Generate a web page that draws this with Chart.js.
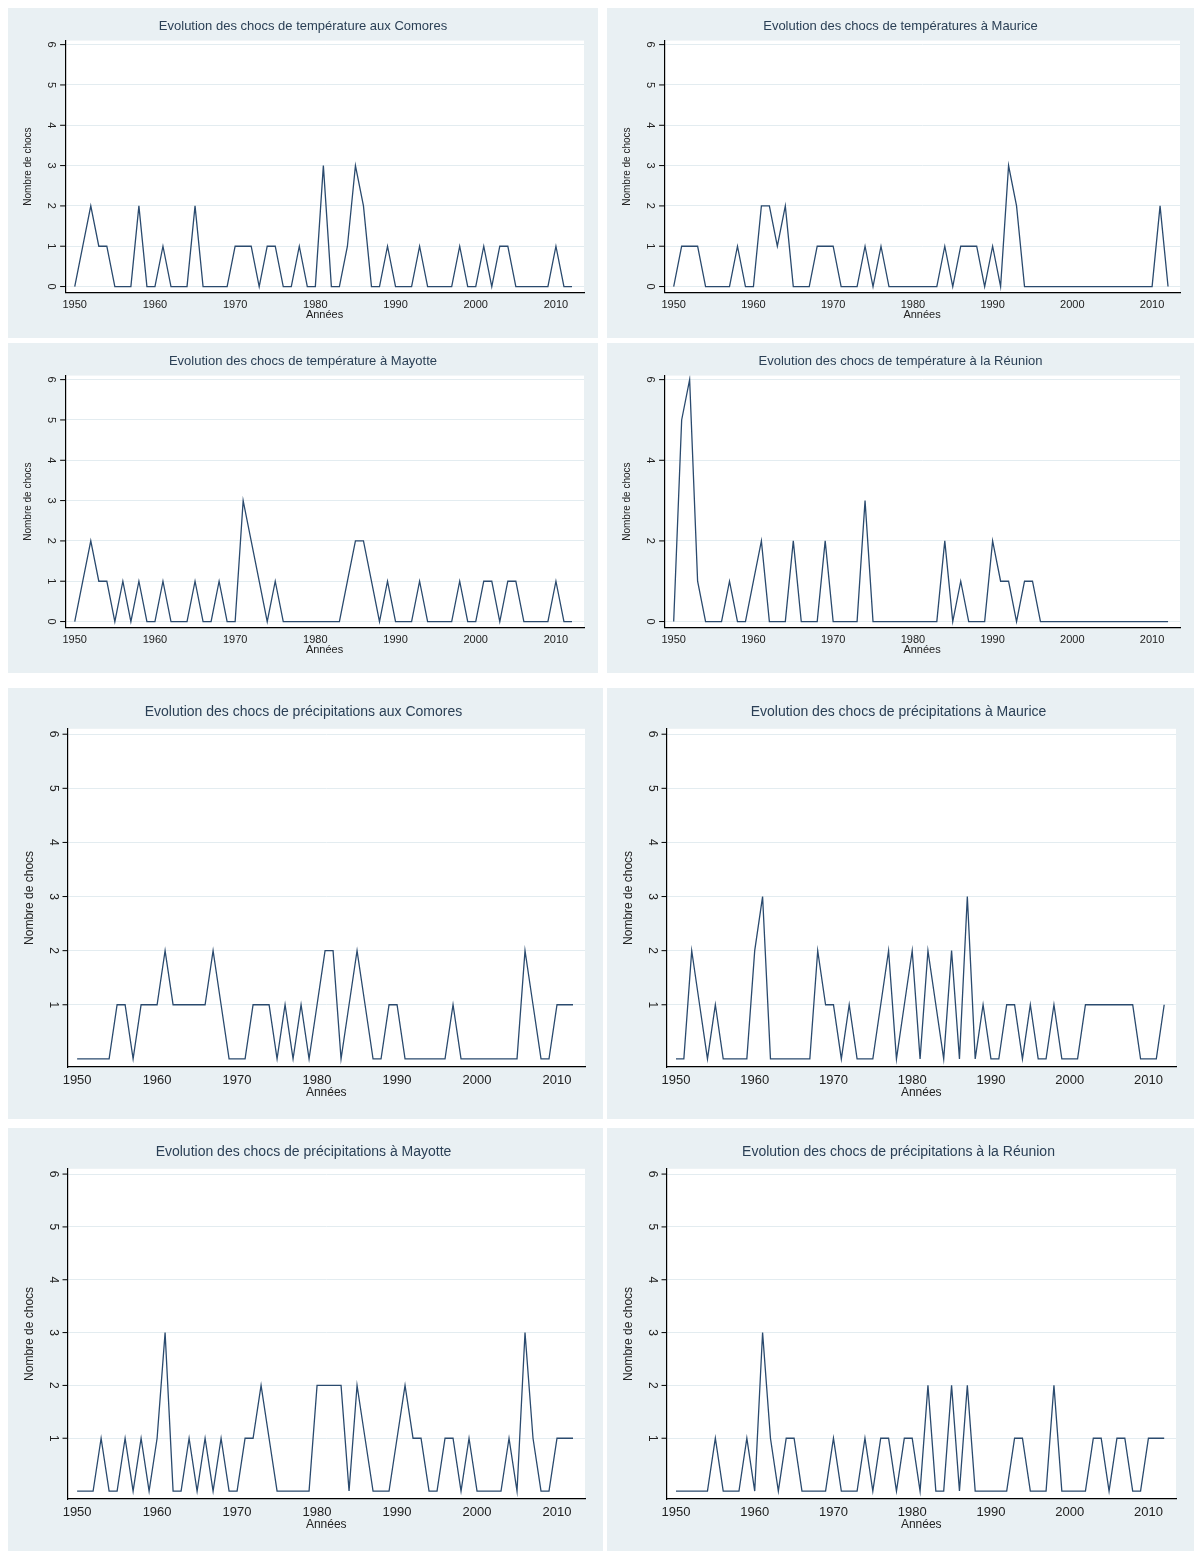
<!DOCTYPE html>
<html>
<head>
<meta charset="utf-8">
<script src="https://cdn.jsdelivr.net/npm/chart.js@4.4.1/dist/chart.umd.min.js"></script>
<style>
  body { margin: 0; background: #ffffff; width: 1195px; height: 1551px; position: relative; font-family: "Liberation Sans", Arial, sans-serif; }
  .panel { position: absolute; background: #e9f0f3; }
  .panel canvas { display: block; }
</style>
</head>
<body>
<script>
const YEARS = [];
for (let y = 1950; y <= 2012; y++) YEARS.push(y);

const X_TICKS = [1950, 1960, 1970, 1980, 1990, 2000, 2010];

const TEMP_COMORES = [0,1,2,1,1,0,0,0,2,0,0,1,0,0,0,2,0,0,0,0,1,1,1,0,1,1,0,0,1,0,0,3,0,0,1,3,2,0,0,1,0,0,0,1,0,0,0,0,1,0,0,1,0,1,1,0,0,0,0,0,1,0,0];
const TEMP_MAURICE = [0,1,1,1,0,0,0,0,1,0,0,2,2,1,2,0,0,0,1,1,1,0,0,0,1,0,1,0,0,0,0,0,0,0,1,0,1,1,1,0,1,0,3,2,0,0,0,0,0,0,0,0,0,0,0,0,0,0,0,0,0,2,0];
const TEMP_MAYOTTE = [0,1,2,1,1,0,1,0,1,0,0,1,0,0,0,1,0,0,1,0,0,3,2,1,0,1,0,0,0,0,0,0,0,0,1,2,2,1,0,1,0,0,0,1,0,0,0,0,1,0,0,1,1,0,1,1,0,0,0,0,1,0,0];
const TEMP_REUNION = [0,5,6,1,0,0,0,1,0,0,1,2,0,0,0,2,0,0,0,2,0,0,0,0,3,0,0,0,0,0,0,0,0,0,2,0,1,0,0,0,2,1,1,0,1,1,0,0,0,0,0,0,0,0,0,0,0,0,0,0,0,0,0];
const PREC_COMORES = [0,0,0,0,0,1,1,0,1,1,1,2,1,1,1,1,1,2,1,0,0,0,1,1,1,0,1,0,1,0,1,2,2,0,1,2,1,0,0,1,1,0,0,0,0,0,0,1,0,0,0,0,0,0,0,0,2,1,0,0,1,1,1];
const PREC_MAURICE = [0,0,2,1,0,1,0,0,0,0,2,3,0,0,0,0,0,0,2,1,1,0,1,0,0,0,1,2,0,1,2,0,2,1,0,2,0,3,0,1,0,0,1,1,0,1,0,0,1,0,0,0,1,1,1,1,1,1,1,0,0,0,1];
const PREC_MAYOTTE = [0,0,0,1,0,0,1,0,1,0,1,3,0,0,1,0,1,0,1,0,0,1,1,2,1,0,0,0,0,0,2,2,2,2,0,2,1,0,0,0,1,2,1,1,0,0,1,1,0,1,0,0,0,0,1,0,3,1,0,0,1,1,1];
const PREC_REUNION = [0,0,0,0,0,1,0,0,0,1,0,3,1,0,1,1,0,0,0,0,1,0,0,0,1,0,1,1,0,1,1,0,2,0,0,2,0,2,0,0,0,0,0,1,1,0,0,0,2,0,0,0,0,1,1,0,1,1,0,0,1,1,1];

const TITLES = [
  "Evolution des chocs de température aux Comores",
  "Evolution des chocs de températures à Maurice",
  "Evolution des chocs de température à Mayotte",
  "Evolution des chocs de température à la Réunion",
  "Evolution des chocs de précipitations aux Comores",
  "Evolution des chocs de précipitations à Maurice",
  "Evolution des chocs de précipitations à Mayotte",
  "Evolution des chocs de précipitations à la Réunion"
];

const SERIES = [TEMP_COMORES, TEMP_MAURICE, TEMP_MAYOTTE, TEMP_REUNION,
                PREC_COMORES, PREC_MAURICE, PREC_MAYOTTE, PREC_REUNION];

const Y_TICKS_TEMP = [0, 1, 2, 3, 4, 5, 6];
const Y_TICKS_REUNION = [0, 2, 4, 6];
const Y_TICKS_PREC = [1, 2, 3, 4, 5, 6];

const PANELS = [
  { left: 8,   top: 8,    w: 590, h: 330, yTicks: Y_TICKS_TEMP,    big: false },
  { left: 607, top: 8,    w: 587, h: 330, yTicks: Y_TICKS_TEMP,    big: false },
  { left: 8,   top: 343,  w: 590, h: 330, yTicks: Y_TICKS_TEMP,    big: false },
  { left: 607, top: 343,  w: 587, h: 330, yTicks: Y_TICKS_REUNION, big: false },
  { left: 8,   top: 688,  w: 595, h: 431, yTicks: Y_TICKS_PREC,    big: true },
  { left: 607, top: 688,  w: 587, h: 431, yTicks: Y_TICKS_PREC,    big: true },
  { left: 8,   top: 1128, w: 595, h: 423, yTicks: Y_TICKS_PREC,    big: true },
  { left: 607, top: 1128, w: 587, h: 423, yTicks: Y_TICKS_PREC,    big: true }
];

const plotBackground = {
  id: "plotBackground",
  beforeDraw(chart) {
    const { ctx, chartArea: a } = chart;
    ctx.save();
    ctx.fillStyle = "#ffffff";
    ctx.fillRect(a.left, a.top, a.right - a.left, a.bottom - a.top);
    ctx.restore();
  }
};

// Stata-style y labels, rotated 90 degrees
const rotatedYLabels = {
  id: "rotatedYLabels",
  afterDraw(chart, args, opts) {
    const { ctx } = chart;
    const y = chart.scales.y;
    ctx.save();
    ctx.fillStyle = "#222";
    ctx.font = opts.size + "px 'Liberation Sans', Arial, sans-serif";
    ctx.textAlign = "center";
    ctx.textBaseline = "middle";
    opts.ticks.forEach((v) => {
      const py = y.getPixelForValue(v);
      ctx.strokeStyle = "#000";
      ctx.lineWidth = 1;
      ctx.beginPath();
      ctx.moveTo(y.right - 5, py);
      ctx.lineTo(y.right, py);
      ctx.stroke();
      ctx.save();
      ctx.translate(y.right - 14, py);
      ctx.rotate(Math.PI / 2);
      ctx.fillText(String(v), 0, 0);
      ctx.restore();
    });
    ctx.restore();
  }
};

PANELS.forEach((p, i) => {
  const div = document.createElement("div");
  div.className = "panel";
  div.style.left = p.left + "px";
  div.style.top = p.top + "px";
  div.style.width = p.w + "px";
  div.style.height = p.h + "px";
  const canvas = document.createElement("canvas");
  div.appendChild(canvas);
  document.body.appendChild(div);

  new Chart(canvas, {
    type: "line",
    data: {
      datasets: [{
        data: SERIES[i].map((v, k) => ({ x: YEARS[k], y: v })),
        borderColor: "#2a4a6e",
        borderWidth: 1.3,
        pointRadius: 0,
        tension: 0,
        fill: false
      }]
    },
    plugins: [plotBackground, rotatedYLabels],
    options: {
      responsive: true,
      maintainAspectRatio: false,
      animation: false,
      layout: { padding: { top: 4, right: p.big ? 18 : 14, left: 14, bottom: p.big ? 19 : 16 } },
      plugins: {
        legend: { display: false },
        tooltip: { enabled: false },
        title: {
          display: true,
          text: TITLES[i],
          color: "#2a3f55",
          font: { size: p.big ? 14 : 13, family: "'Liberation Sans', Arial, sans-serif", weight: "normal" },
          padding: { top: p.big ? 12 : 7, bottom: p.big ? 8 : 6 }
        },
        rotatedYLabels: { ticks: p.yTicks, size: p.big ? 12 : 11 }
      },
      scales: {
        x: {
          type: "linear",
          min: 1948.8,
          max: 2013.5,
          afterBuildTicks(scale) { scale.ticks = X_TICKS.map((v) => ({ value: v })); },
          grid: { display: false, drawTicks: true, tickLength: 5, tickColor: "#000" },
          border: { color: "#000", width: 1.2 },
          ticks: { color: "#222", font: { size: p.big ? 13 : 11 }, padding: 1, maxRotation: 0, autoSkip: false, callback: (v) => String(v) },
          title: { display: true, text: "Années", color: "#222", font: { size: p.big ? 12 : 11 }, padding: { top: -4, bottom: 0 } }
        },
        y: {
          min: -0.15,
          max: 6.1,
          afterBuildTicks(scale) { scale.ticks = p.yTicks.map((v) => ({ value: v })); },
          grid: { color: "#e3ecf0", drawTicks: false },
          border: { color: "#000", width: 1.2 },
          ticks: { display: true, color: "rgba(0,0,0,0)", font: { size: 11 }, padding: 8 },
          title: { display: true, text: "Nombre de chocs", color: "#222", font: { size: p.big ? 12 : 10 }, padding: { top: 0, bottom: 9 } }
        }
      }
    }
  });
});
</script>
</body>
</html>
